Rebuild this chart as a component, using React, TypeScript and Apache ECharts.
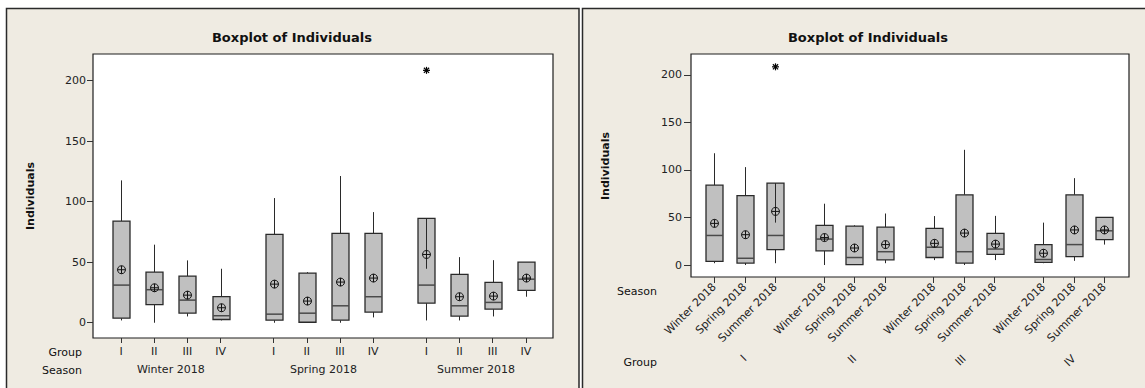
import React, { useEffect, useRef } from "react";
import * as echarts from "echarts";

// ---------- data ----------
const seasons = ["Winter 2018", "Spring 2018", "Summer 2018"];
const groups = ["I", "II", "III", "IV"];
// rows = season, columns = group I..IV
const whiskerLow = [
  [1.9, 0, 5.2, 1.9],
  [0, 0, 0, 4.4],
  [1.9, 1.9, 5.2, 21.5],
];
const q1 = [
  [3.8, 14.9, 7.9, 2.7],
  [2.1, 0.4, 2.1, 8.8],
  [16.2, 5.5, 11.2, 26.7],
];
const median = [
  [31.1, 27.3, 18.7, 5.8],
  [7.1, 7.9, 14.0, 21.5],
  [31.1, 14.0, 16.8, 36.0],
];
const q3 = [
  [84.0, 41.8, 38.5, 21.5],
  [73.0, 41.0, 73.8, 73.8],
  [86.2, 39.9, 33.3, 50.1],
];
const whiskerHigh = [
  [117.6, 64.5, 51.5, 44.6],
  [103.0, 41.8, 121.2, 91.4],
  [86.2, 54.2, 51.7, 50.1],
];
const means = [
  [43.8, 28.9, 22.8, 12.4],
  [31.9, 17.9, 33.6, 36.9],
  [56.4, 21.5, 22.0, 36.9],
];
// extra line drawn inside the box from Q3 downwards (only Summer / I)
const innerLineLow: (number | null)[][] = [
  [null, null, null, null],
  [null, null, null, null],
  [44.6, null, null, null],
];
const outliers: number[][][] = [
  [[], [], [], []],
  [[], [], [], []],
  [[208.5], [], [], []],
];
const yTicks = [0, 50, 100, 150, 200];

// ---------- layout helpers ----------
const FONT = "DejaVu Sans";
const DARK = "#222";
const GAP = 1.6;

type Box = {
  pos: number;
  lo: number;
  q1: number;
  med: number;
  q3: number;
  hi: number;
  mean: number;
  inner: number | null;
  out: number[];
};

function makeBox(si: number, gi: number, pos: number): Box {
  return {
    pos,
    lo: whiskerLow[si][gi],
    q1: q1[si][gi],
    med: median[si][gi],
    q3: q3[si][gi],
    hi: whiskerHigh[si][gi],
    mean: means[si][gi],
    inner: innerLineLow[si][gi],
    out: outliers[si][gi],
  };
}

// Left panel: season outer, group inner
const leftBoxes: Box[] = [];
const leftGroupLabels: string[] = [];
const leftSeasonCenters: number[] = [];
seasons.forEach((s, si) => {
  groups.forEach((g, gi) => {
    const pos = si * (groups.length - 1 + GAP) + gi + 1;
    leftBoxes.push(makeBox(si, gi, pos));
    leftGroupLabels.push(g);
  });
  leftSeasonCenters.push(si * (groups.length - 1 + GAP) + 1 + (groups.length - 1) / 2);
});
// Right panel: group outer, season inner
const rightBoxes: Box[] = [];
const rightSeasonLabels: string[] = [];
const rightGroupCenters: number[] = [];
groups.forEach((g, gi) => {
  seasons.forEach((s, si) => {
    const pos = gi * (seasons.length - 1 + GAP) + si + 1;
    rightBoxes.push(makeBox(si, gi, pos));
    rightSeasonLabels.push(s);
  });
  rightGroupCenters.push(gi * (seasons.length - 1 + GAP) + 1 + (seasons.length - 1) / 2);
});

const labelAt = (positions: number[], labels: string[]) => (v: number) => {
  let best = 0;
  positions.forEach((p, i) => {
    if (Math.abs(p - v) < Math.abs(positions[best] - v)) best = i;
  });
  return labels[best];
};

const makeRender = (boxes: Box[]) => (params: any, api: any) => {
  const b = boxes[params.dataIndex];
  const x = api.value(0);
  const c = (v: number) => api.coord([x, v]);
  const cx = Math.round(c(b.q1)[0]) + 0.5;
  const y = (v: number) => c(v)[1];
  const hw = 8.5;
  const stroke = "#2a2a2a";
  const ch: any[] = [];
  if (b.hi > b.q3)
    ch.push({ type: "line", shape: { x1: cx, y1: y(b.q3), x2: cx, y2: y(b.hi) }, style: { stroke, lineWidth: 1 } });
  if (b.lo < b.q1)
    ch.push({ type: "line", shape: { x1: cx, y1: y(b.q1), x2: cx, y2: y(b.lo) }, style: { stroke, lineWidth: 1 } });
  ch.push({
    type: "rect",
    shape: { x: cx - hw, y: y(b.q3), width: hw * 2, height: y(b.q1) - y(b.q3) },
    style: { fill: "#c0c0c0", stroke, lineWidth: 1.3 },
  });
  ch.push({
    type: "line",
    shape: { x1: cx - hw, y1: y(b.med), x2: cx + hw, y2: y(b.med) },
    style: { stroke: "#4a4a4a", lineWidth: 1.5 },
  });
  if (b.inner != null)
    ch.push({ type: "line", shape: { x1: cx, y1: y(b.q3), x2: cx, y2: y(b.inner) }, style: { stroke, lineWidth: 1 } });
  const my = y(b.mean);
  const r = 4;
  ch.push({ type: "circle", shape: { cx, cy: my, r }, style: { fill: "none", stroke: "#111", lineWidth: 1 } });
  ch.push({ type: "line", shape: { x1: cx - r, y1: my, x2: cx + r, y2: my }, style: { stroke: "#111", lineWidth: 1 } });
  ch.push({ type: "line", shape: { x1: cx, y1: my - r, x2: cx, y2: my + r }, style: { stroke: "#111", lineWidth: 1 } });
  b.out.forEach((o) => {
    const oy = y(o);
    const a = 3.5;
    const d = 2.6;
    ch.push({ type: "line", shape: { x1: cx, y1: oy - a, x2: cx, y2: oy + a }, style: { stroke: "#000", lineWidth: 1.2 } });
    ch.push({ type: "line", shape: { x1: cx - a, y1: oy, x2: cx + a, y2: oy }, style: { stroke: "#000", lineWidth: 1.2 } });
    ch.push({ type: "line", shape: { x1: cx - d, y1: oy - d, x2: cx + d, y2: oy + d }, style: { stroke: "#000", lineWidth: 1.2 } });
    ch.push({ type: "line", shape: { x1: cx - d, y1: oy + d, x2: cx + d, y2: oy - d }, style: { stroke: "#000", lineWidth: 1.2 } });
  });
  return { type: "group", children: ch };
};

const labelStyle = { fontFamily: FONT, fontSize: 11, color: DARK };

export default function App() {
  const ref = useRef<HTMLDivElement>(null);
  useEffect(() => {
    if (!ref.current) return;
    const chart = echarts.init(ref.current, undefined, { renderer: "svg" });
    const yMin = -12.6;
    const yMax = 222;
    const yAxisBase = (grid: number, tickLen: number, margin: number) => ({
      type: "value",
      gridIndex: grid,
      min: yMin,
      max: yMax,
      axisLine: { show: false, onZero: false },
      splitLine: { show: false },
      axisTick: { show: true, length: tickLen, customValues: yTicks, lineStyle: { color: "#333" } },
      axisLabel: { ...labelStyle, margin, customValues: yTicks },
    });
    const xAxisBase = (grid: number, min: number, max: number) => ({
      type: "value",
      gridIndex: grid,
      position: "bottom",
      min,
      max,
      axisLine: { show: false, onZero: false },
      splitLine: { show: false },
    });
    const graphicText = (x: number, y: number, text: string, opts: any = {}) => ({
      type: "text",
      x,
      y,
      z: 10,
      rotation: opts.rotation || 0,
      style: {
        text,
        fontFamily: FONT,
        fontSize: opts.size || 11,
        fontWeight: opts.bold ? "bold" : "normal",
        fill: "#111",
        align: opts.align || "center",
        verticalAlign: "middle",
      },
    });
    const leftPos = leftBoxes.map((b) => b.pos);
    const rightPos = rightBoxes.map((b) => b.pos);
    chart.setOption({
      animation: false,
      backgroundColor: "#ffffff",
      textStyle: { fontFamily: FONT },
      graphic: [
        {
          type: "rect",
          z: -10,
          shape: { x: 6.5, y: 8.5, width: 572.5, height: 400 },
          style: { fill: "#EFEBE2", stroke: "#2a2a2a", lineWidth: 1.5 },
        },
        {
          type: "rect",
          z: -10,
          shape: { x: 582.5, y: 8.5, width: 600, height: 400 },
          style: { fill: "#EFEBE2", stroke: "#2a2a2a", lineWidth: 1.5 },
        },
        graphicText(292, 37, "Boxplot of Individuals", { bold: true, size: 13 }),
        graphicText(868, 37, "Boxplot of Individuals", { bold: true, size: 13 }),
        graphicText(30, 196, "Individuals", { bold: true, rotation: Math.PI / 2 }),
        graphicText(605, 166, "Individuals", { bold: true, rotation: Math.PI / 2 }),
        graphicText(82, 352, "Group", { align: "right" }),
        graphicText(82, 370, "Season", { align: "right" }),
        graphicText(657, 291, "Season", { align: "right" }),
        graphicText(657, 362, "Group", { align: "right" }),
      ],
      grid: [
        { left: 93, top: 54, width: 460, height: 284, show: true, backgroundColor: "#fff", borderColor: "#1e1e1e", borderWidth: 1.2 },
        { left: 691, top: 54, width: 438, height: 223, show: true, backgroundColor: "#fff", borderColor: "#1e1e1e", borderWidth: 1.2 },
      ],
      xAxis: [
        {
          ...xAxisBase(0, 0.156, 14.02),
          axisTick: { show: true, length: 5, customValues: leftPos, lineStyle: { color: "#333" } },
          axisLabel: { ...labelStyle, margin: 8, customValues: leftPos, formatter: labelAt(leftPos, leftGroupLabels) },
        },
        {
          ...xAxisBase(0, 0.156, 14.02),
          axisTick: { show: false },
          axisLabel: { ...labelStyle, margin: 26, customValues: leftSeasonCenters, formatter: labelAt(leftSeasonCenters, seasons) },
        },
        {
          ...xAxisBase(1, 0.235, 14.61),
          axisTick: { show: true, length: 6, customValues: rightPos, lineStyle: { color: "#333" } },
          axisLabel: {
            ...labelStyle,
            margin: 8,
            rotate: 45,
            customValues: rightPos,
            formatter: labelAt(rightPos, rightSeasonLabels),
          },
        },
        {
          ...xAxisBase(1, 0.235, 14.61),
          axisTick: { show: false },
          axisLabel: {
            ...labelStyle,
            margin: 80,
            rotate: 45,
            customValues: rightGroupCenters,
            formatter: labelAt(rightGroupCenters, groups),
          },
        },
      ],
      yAxis: [yAxisBase(0, 6, 7), yAxisBase(1, 7, 9)],
      series: [
        {
          type: "custom",
          xAxisIndex: 0,
          yAxisIndex: 0,
          renderItem: makeRender(leftBoxes),
          data: leftBoxes.map((b) => [b.pos, b.lo, b.q1, b.med, b.q3, b.hi, b.mean]),
          encode: { x: 0, y: [1, 2, 3, 4, 5, 6] },
        },
        {
          type: "custom",
          xAxisIndex: 2,
          yAxisIndex: 1,
          renderItem: makeRender(rightBoxes),
          data: rightBoxes.map((b) => [b.pos, b.lo, b.q1, b.med, b.q3, b.hi, b.mean]),
          encode: { x: 0, y: [1, 2, 3, 4, 5, 6] },
        },
      ],
    });
    return () => chart.dispose();
  }, []);
  return <div ref={ref} style={{ position: "fixed", left: 0, top: 0, width: 1145, height: 388 }} />;
}
